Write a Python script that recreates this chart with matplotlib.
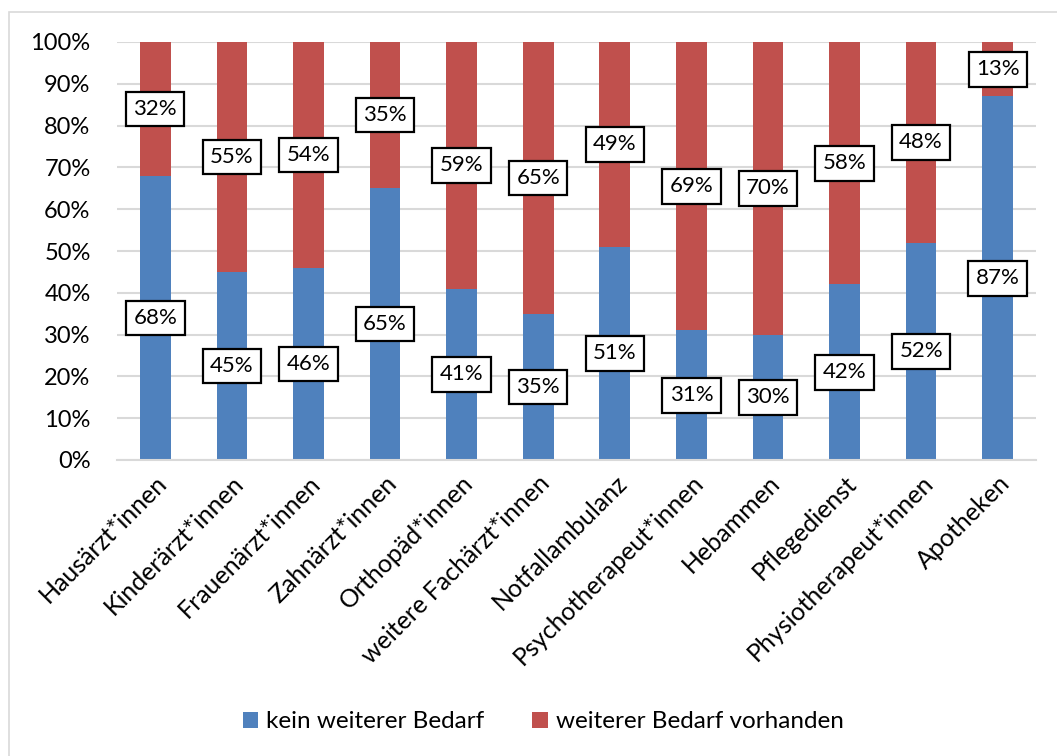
import matplotlib.pyplot as plt
from matplotlib.patches import Rectangle

plt.rcParams['font.family'] = ['Lato', 'DejaVu Sans']

categories = ["Hausärzt*innen", "Kinderärzt*innen", "Frauenärzt*innen", "Zahnärzt*innen",
              "Orthopäd*innen", "weitere Fachärzt*innen", "Notfallambulanz",
              "Psychotherapeut*innen", "Hebammen", "Pflegedienst",
              "Physiotherapeut*innen", "Apotheken"]
kein_bedarf = [68, 45, 46, 65, 41, 35, 51, 31, 30, 42, 52, 87]
weiterer_bedarf = [32, 55, 54, 35, 59, 65, 49, 69, 70, 58, 48, 13]
yticks = [0, 10, 20, 30, 40, 50, 60, 70, 80, 90, 100]

blue = "#4f81bd"
red = "#c0504d"

fig = plt.figure(figsize=(10.57, 7.56), dpi=100)
ax = fig.add_axes([117/1057, 1 - 460/756, (1036-117)/1057, (460-42)/756])

# light frame like the chart area border in the original
fig.patches.append(Rectangle((9/1057, -0.1), 1.2, 1 - 12/756 + 0.1, transform=fig.transFigure,
                             fill=False, edgecolor="#d9d9d9", linewidth=1.2))

x = list(range(len(categories)))
ax.bar(x, kein_bedarf, width=0.4, color=blue, label="kein weiterer Bedarf", zorder=2)
ax.bar(x, weiterer_bedarf, width=0.4, bottom=kein_bedarf, color=red,
       label="weiterer Bedarf vorhanden", zorder=2)

box = dict(boxstyle="square,pad=0.33", facecolor="white", edgecolor="black", linewidth=1.6)
for i in x:
    ax.text(i, kein_bedarf[i] / 2, f"{kein_bedarf[i]}%", ha="center", va="center",
            fontsize=16, bbox=box, zorder=3)
    ax.text(i, kein_bedarf[i] + weiterer_bedarf[i] / 2, f"{weiterer_bedarf[i]}%",
            ha="center", va="center", fontsize=16, bbox=box, zorder=3)

ax.set_xlim(-0.5, len(categories) - 0.5)
ax.set_ylim(0, 100)
ax.set_yticks(yticks)
ax.set_yticklabels([f"{v}%" for v in yticks], fontsize=17)
ax.set_xticks(x)
ax.set_xticklabels(categories, rotation=45, ha="right", rotation_mode="anchor", fontsize=18)
ax.tick_params(length=0)
ax.tick_params(axis="y", pad=19)
ax.tick_params(axis="x", pad=8)
ax.grid(axis="y", color="#d9d9d9", linewidth=1.5, zorder=0)
for s in ["top", "right", "left"]:
    ax.spines[s].set_visible(False)
ax.spines["bottom"].set_color("#d9d9d9")
ax.spines["bottom"].set_linewidth(1.5)

fig.legend(loc="center", bbox_to_anchor=(543/1057, 1 - 722/756), ncol=2, frameon=False,
           fontsize=17.5, handlelength=0.65, handleheight=0.65, handletextpad=0.3,
           columnspacing=2)

fig.savefig("out.png", dpi=100)
